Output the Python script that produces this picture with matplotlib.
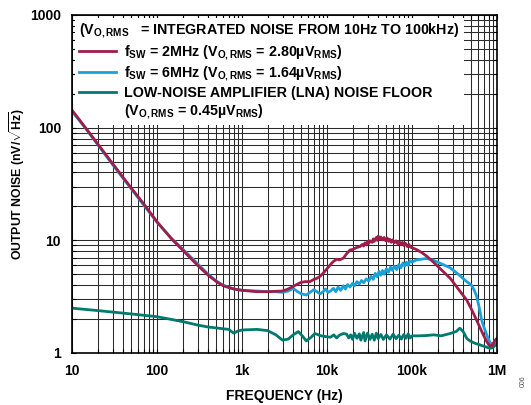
import numpy as np
import matplotlib
matplotlib.use("Agg")
from matplotlib import pyplot as plt
from matplotlib.lines import Line2D
from matplotlib.ticker import FixedLocator, FixedFormatter, NullFormatter

plt.rcParams['font.family'] = ['Liberation Sans', 'DejaVu Sans']
plt.rcParams['font.weight'] = 'bold'
plt.rcParams['mathtext.fontset'] = 'custom'
plt.rcParams['mathtext.rm'] = 'Liberation Sans:bold'
plt.rcParams['mathtext.bf'] = 'Liberation Sans:bold'
plt.rcParams['mathtext.it'] = 'Liberation Sans:bold'

# fSW = 2MHz
f_2mhz = [10, 15, 20, 30, 50, 70, 100, 150, 200, 300, 400, 500, 600, 800, 1000, 1500, 2000, 3000,
          3500, 4000, 4800, 5500, 6300, 7000, 7600, 8300, 9000, 10000, 11000, 11900, 13000, 14000,
          15600, 17000, 18600, 20000, 22000, 24400, 26000, 27000, 28000, 29000, 30000, 31000, 32000,
          34000, 35000, 36000, 38000, 39000, 40000, 42000, 43000, 45000, 47000, 49000, 51000, 53000,
          55000, 57000, 59000, 62000, 65000, 68000, 71000, 74000, 77000, 80000, 84000, 88000, 92000,
          96000, 100000, 112000, 130000, 150000, 175000, 220000, 282000, 350000, 440000, 500000,
          575000, 630000, 693000, 750000, 800000, 870000, 950000, 1000000]
v_2mhz = [143, 96, 72, 48, 29, 21, 14.6, 10.2, 8.2, 6.0, 4.9, 4.3, 3.95, 3.7, 3.6, 3.5, 3.5, 3.55,
          3.7, 3.9, 4.2, 4.3, 4.3, 4.5, 4.6, 4.8, 5.1, 5.6, 6.1, 6.5, 6.8, 6.7,
          6.96, 7.6, 8.2, 8.3, 8.6, 8.8, 9.2, 8.9, 9.5, 9.1, 9.8, 9.4, 9.9,
          9.6, 10.3, 9.8, 10.6, 10.0, 10.9, 10.2, 10.7, 10.1, 10.6, 9.9, 10.5, 9.8,
          10.2, 9.6, 10.1, 9.5, 9.9, 9.3, 9.7, 9.2, 9.6, 9.0, 9.4, 8.8, 9.2,
          8.7, 8.6, 8.3, 7.8, 7.2, 6.5, 5.5, 4.6, 3.7, 2.95, 2.45,
          1.96, 1.68, 1.44, 1.28, 1.18, 1.15, 1.3, 1.35]

# fSW = 6MHz
f_6mhz = [10, 15, 20, 30, 50, 70, 100, 150, 200, 300, 400, 500, 600, 800, 1000, 1500, 2000, 2500,
          3000, 3500, 4000, 4500, 5000, 5700, 6300, 7000, 7600, 8300, 9000, 9600, 10300, 11000,
          11900, 12700, 13500, 14500, 15600, 16500, 17500, 18600, 20000, 21000, 22500, 24000,
          25500, 27000, 29000, 31000, 33000, 35000, 37000, 39000, 41000, 43000, 45000, 47000,
          50000, 53000, 56000, 59000, 62000, 66000, 70000, 74000, 78000, 82000, 86000, 90000,
          95000, 100000, 112000, 148000, 175000, 220000, 282000, 350000, 440000, 500000, 540000,
          575000, 620000, 660000, 700000, 760000, 830000, 900000, 1000000]
v_6mhz = [140, 95, 71, 47, 28.5, 20.5, 14.5, 10.3, 8.4, 6.2, 5.0, 4.35, 4.0, 3.7, 3.6, 3.55, 3.5, 3.5,
          3.45, 3.55, 3.75, 3.5, 3.35, 3.27, 3.45, 3.65, 3.5, 3.35, 3.5, 3.7, 3.45, 3.55,
          3.75, 3.5, 3.85, 3.6, 3.95, 3.7, 4.05, 3.85, 4.15, 3.95, 4.3, 4.1,
          4.4, 4.2, 4.55, 4.35, 4.8, 4.5, 5.1, 4.75, 5.3, 4.9, 5.4, 5.0,
          5.6, 5.2, 5.8, 5.4, 5.9, 5.5, 6.1, 5.7, 6.3, 5.9, 6.4, 6.0,
          6.6, 6.4, 6.7, 6.9, 6.7, 6.2, 5.7, 5.0, 4.3, 4.0, 3.6,
          3.2, 2.5, 1.96, 1.7, 1.44, 1.23, 1.2, 1.35]

# LNA noise floor
f_lna = [10, 20, 50, 100, 200, 300, 400, 500, 600, 700, 750, 800, 900, 1000, 1500, 2000, 2500,
         3000, 3500, 4000, 4600, 5200, 5700, 6500, 7200, 8500, 9600, 11000, 12000, 13000, 14000,
         15600, 17000, 18000, 19000, 20000, 21000, 22500, 24000, 25000, 27000, 28000, 30000,
         32000, 34000, 36000, 38000, 40000, 43000, 46000, 50000, 55000, 60000, 65000, 70000,
         75000, 80000, 85000, 90000, 95000, 100000, 120000, 150000, 180000, 220000, 282000,
         330000, 365000, 400000, 440000, 480000, 550000, 630000, 720000, 830000, 900000, 1000000]
v_lna = [2.5, 2.38, 2.22, 2.1, 1.9, 1.77, 1.7, 1.67, 1.64, 1.62, 1.55, 1.5, 1.57, 1.6, 1.62, 1.58, 1.45,
         1.3, 1.33, 1.45, 1.55, 1.4, 1.28, 1.38, 1.49, 1.42, 1.4, 1.38, 1.45, 1.36, 1.44,
         1.49, 1.47, 1.36, 1.45, 1.32, 1.5, 1.35, 1.48, 1.3, 1.52, 1.28, 1.5,
         1.32, 1.47, 1.3, 1.5, 1.34, 1.46, 1.32, 1.45, 1.33, 1.47, 1.34, 1.44,
         1.33, 1.46, 1.35, 1.48, 1.36, 1.42, 1.42, 1.43, 1.45, 1.42, 1.49,
         1.55, 1.66, 1.55, 1.35, 1.28, 1.22, 1.18, 1.14, 1.1, 1.12, 1.22]

x_ticks = [10, 100, 1000, 10000, 100000, 1000000]
x_labels = ['10', '100', '1k', '10k', '100k', '1M']
y_ticks = [1, 10, 100, 1000]
y_labels = ['1', '10', '100', '1000']

c_red = '#A01C4A'
c_blue = '#1BA1D9'
c_teal = '#007A6E'

fig = plt.figure(figsize=(5.31, 4.05), dpi=100)
ax = fig.add_axes([0.1356, 0.1284, 0.8004, 0.8346])

# curves sit above the legend box so the 10Hz start stays visible
ax.plot(f_lna, v_lna, color=c_teal, lw=2.0, zorder=6)
ax.plot(f_6mhz, v_6mhz, color=c_blue, lw=2.0, zorder=6)
ax.plot(f_2mhz, v_2mhz, color=c_red, lw=2.0, zorder=7)

ax.set_xscale('log')
ax.set_yscale('log')
ax.set_xlim(10, 1e6)
ax.set_ylim(1, 1000)

ax.xaxis.set_major_locator(FixedLocator(x_ticks))
ax.xaxis.set_major_formatter(FixedFormatter(x_labels))
ax.yaxis.set_major_locator(FixedLocator(y_ticks))
ax.yaxis.set_major_formatter(FixedFormatter(y_labels))
ax.xaxis.set_minor_formatter(NullFormatter())
ax.yaxis.set_minor_formatter(NullFormatter())

ax.grid(True, which='both', color='#2a2a2a', lw=0.75)
ax.set_axisbelow(True)
ax.tick_params(which='both', direction='in', top=True, right=True, length=3, width=0.8,
               labelsize=10)
ax.tick_params(axis='x', pad=8)
ax.tick_params(axis='y', pad=8)
for s in ax.spines.values():
    s.set_linewidth(1.2)
    s.set_zorder(8)

ax.set_xlabel('FREQUENCY (Hz)', fontsize=10, fontweight='bold', labelpad=8)
ax.set_ylabel(r'OUTPUT NOISE (nV/$\sqrt{\mathrm{Hz}}$)', fontsize=8.8, fontweight='bold', labelpad=2)

# legend: the LNA entry wraps onto a second row with no line
handles = [Line2D([], [], color=c_red, lw=2.0),
           Line2D([], [], color=c_blue, lw=2.0),
           Line2D([], [], color=c_teal, lw=2.0),
           Line2D([], [], lw=0)]
labels = [r'$\mathrm{f_{SW}}$ = 2MHz ($\mathrm{V_{O,RMS}}$ = 2.80µ$\mathrm{V_{RMS}}$)',
          r'$\mathrm{f_{SW}}$ = 6MHz ($\mathrm{V_{O,RMS}}$ = 1.64µ$\mathrm{V_{RMS}}$)',
          'LOW-NOISE AMPLIFIER (LNA) NOISE FLOOR',
          r'($\mathrm{V_{O,RMS}}$ = 0.45µ$\mathrm{V_{RMS}}$)']
leg = ax.legend(handles, labels, loc='upper left', fontsize=10.3, frameon=True, fancybox=False,
                facecolor='white', edgecolor='none', framealpha=1, borderaxespad=0.2,
                handlelength=2.6, handletextpad=0.5, labelspacing=0.2, borderpad=0.3,
                title=r'($\mathrm{V_{O,RMS}}$   = INTEGRATED NOISE FROM 10Hz TO 100kHz)',
                title_fontproperties={'size': 10.3, 'weight': 'bold'}, alignment='left')
leg.set_zorder(5)

fig.text(0.985, 0.06, '006', rotation=90, fontsize=5, color='#555555', fontweight='normal',
         ha='center', va='center')

plt.savefig('out.png', dpi=100)
